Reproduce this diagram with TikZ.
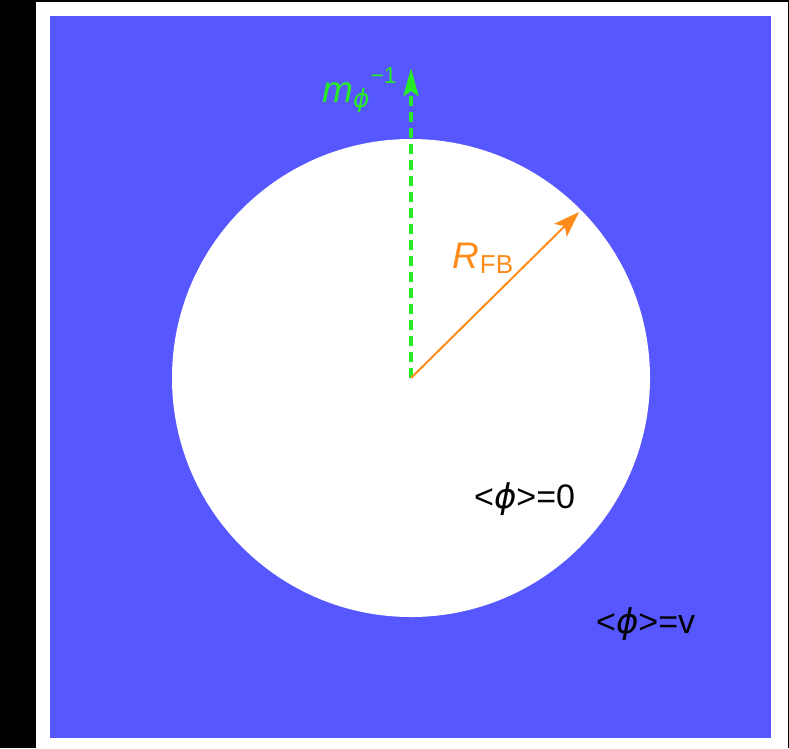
\documentclass[tikz,border=0pt]{standalone}
\usepackage{xcolor}
\usepackage{fontspec}
\setmainfont{Liberation Sans}
\newfontfamily\phifont{DejaVu Sans}
\usepackage{tikz}
\usetikzlibrary{arrows.meta}
\definecolor{vevblue}{RGB}{87,87,255}
\definecolor{massgreen}{RGB}{40,235,40}
\definecolor{radorange}{RGB}{255,140,26}
\newcommand{\fsz}[1]{\fontsize{#1}{#1}\selectfont}
\newcommand{\vphi}{{\phifont\itshape ϕ}}

\begin{document}
\begin{tikzpicture}[x=1pt, y=-1pt, every node/.style={inner sep=0pt}]
\useasboundingbox (0,0) rectangle (789,748);
\fill[black] (0,0) rectangle (789,748);
\fill[white] (36,2) rectangle (787.5,748);
\fill[vevblue] (50,16) rectangle (771,738);
\fill[white] (411,378) circle[radius=239];

\coordinate (ctr) at (411,378);
\coordinate (mtip) at (411,68);
\coordinate (rtip) at (579,212);

\draw[massgreen, line width=4pt, dash pattern=on 10pt off 6pt,
  -{Stealth[length=28pt, width=15pt, inset=5pt]}] (ctr) -- (mtip);
\draw[radorange, line width=2pt,
  -{Stealth[length=26pt, width=18pt, inset=6pt]}] (ctr) -- (rtip);

\node[anchor=base west, text=massgreen] (mlabel) at (322,102)
  {\fsz{37}\textit{m}\raisebox{-5pt}{\fsz{25}\vphi}\kern1pt\raisebox{19pt}{\fsz{23}−1}};
\node[anchor=base west, text=radorange] (rlabel) at (452,268)
  {\fsz{37}\textit{R}\kern1pt\raisebox{-5pt}{\fsz{26}FB}};
\node[anchor=base west] (inside) at (474,508)
  {\fsz{34}<\vphi>=0};
\node[anchor=base west] (outside) at (596,633)
  {\fsz{34}<\vphi>=v};
\end{tikzpicture}
\end{document}
